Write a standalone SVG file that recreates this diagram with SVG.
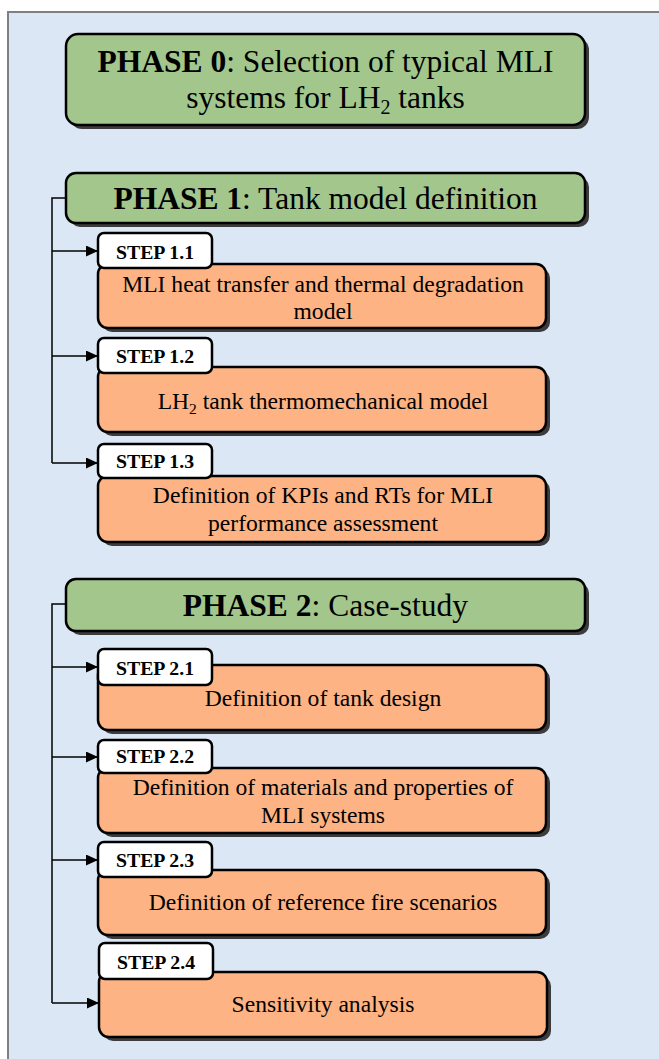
<svg xmlns="http://www.w3.org/2000/svg" width="659" height="1059" viewBox="0 0 659 1059">
<defs>
<marker id="arr" markerWidth="12" markerHeight="11" refX="12" refY="5.5" orient="auto" markerUnits="userSpaceOnUse"><path d="M0,0 L12,5.5 L0,11 Z" fill="#000"/></marker>
</defs>
<style>
.bg{fill:#dbe7f5}
.sh{fill:#3c3c3c}
.phase{fill:#a3c68d;stroke:#000;stroke-width:2.5}
.step{fill:#fdb383;stroke:#000;stroke-width:2.5}
.lbl{fill:#fff;stroke:#000;stroke-width:2.5}
.t{font-family:"Liberation Serif","Times New Roman",serif;fill:#000;text-anchor:middle}
.pt{font-size:31.5px}
.st{font-size:19.8px;font-weight:bold}
.bt{font-size:23.6px}
.b{font-weight:bold}
.conn{fill:none;stroke:#000;stroke-width:1.5}
</style>
<rect x="0" y="0" width="659" height="1059" fill="#fff"/>
<rect class="bg" x="8" y="12" width="651" height="1047"/>
<path d="M8,1059 V12 H659" fill="none" stroke="#808080" stroke-width="2"/>

<g id="connectors">
<path class="conn" d="M66,198 H52 V463"/>
<line class="conn" x1="52" y1="251" x2="98" y2="251" marker-end="url(#arr)"/>
<line class="conn" x1="52" y1="356" x2="98" y2="356" marker-end="url(#arr)"/>
<line class="conn" x1="52" y1="463" x2="98" y2="463" marker-end="url(#arr)"/>
<path class="conn" d="M66,604 H52 V1003"/>
<line class="conn" x1="52" y1="667" x2="98" y2="667" marker-end="url(#arr)"/>
<line class="conn" x1="52" y1="757" x2="98" y2="757" marker-end="url(#arr)"/>
<line class="conn" x1="52" y1="860" x2="98" y2="860" marker-end="url(#arr)"/>
<line class="conn" x1="52" y1="1003" x2="99" y2="1003" marker-end="url(#arr)"/>
</g>

<g id="phase0">
<rect class="sh" x="70" y="38" width="519" height="91" rx="12"/>
<rect class="phase" x="66" y="34" width="519" height="91" rx="12"/>
<text class="t pt" x="325.5" y="72"><tspan class="b">PHASE 0</tspan>: Selection of typical MLI</text>
<text class="t pt" x="325.5" y="108">systems for LH<tspan font-size="20px" dy="6">2</tspan><tspan dy="-6"> tanks</tspan></text>
</g>

<g id="phase1">
<rect class="sh" x="70" y="177" width="519" height="50" rx="10"/>
<rect class="phase" x="66" y="173" width="519" height="50" rx="10"/>
<text class="t pt" x="325.5" y="209"><tspan class="b">PHASE 1</tspan>: Tank model definition</text>
</g>

<g id="step11">
<rect class="sh" x="102" y="268" width="448" height="64" rx="10"/>
<rect class="step" x="98" y="264" width="448" height="64" rx="10"/>
<rect class="lbl" x="98" y="233" width="114" height="35" rx="6"/>
<text class="t st" x="155" y="259">STEP 1.1</text>
<text class="t bt" x="323" y="292">MLI heat transfer and thermal degradation</text>
<text class="t bt" x="323" y="319">model</text>
</g>

<g id="step12">
<rect class="sh" x="102" y="371" width="448" height="65" rx="10"/>
<rect class="step" x="98" y="367" width="448" height="65" rx="10"/>
<rect class="lbl" x="98" y="338" width="114" height="35" rx="6"/>
<text class="t st" x="155" y="363">STEP 1.2</text>
<text class="t bt" x="323" y="409">LH<tspan font-size="15.5px" dy="5">2</tspan><tspan dy="-5"> tank thermomechanical model</tspan></text>
</g>

<g id="step13">
<rect class="sh" x="102" y="480" width="448" height="66" rx="10"/>
<rect class="step" x="98" y="476" width="448" height="66" rx="10"/>
<rect class="lbl" x="98" y="444" width="114" height="34" rx="6"/>
<text class="t st" x="155" y="468">STEP 1.3</text>
<text class="t bt" x="323" y="503">Definition of KPIs and RTs for MLI</text>
<text class="t bt" x="323" y="531">performance assessment</text>
</g>

<g id="phase2">
<rect class="sh" x="70" y="583" width="519" height="52" rx="10"/>
<rect class="phase" x="66" y="579" width="519" height="52" rx="10"/>
<text class="t pt" x="325.5" y="616"><tspan class="b">PHASE 2</tspan>: Case-study</text>
</g>

<g id="step21">
<rect class="sh" x="102" y="669" width="448" height="65" rx="10"/>
<rect class="step" x="98" y="665" width="448" height="65" rx="10"/>
<rect class="lbl" x="98" y="649" width="114" height="36" rx="6"/>
<text class="t st" x="155" y="675">STEP 2.1</text>
<text class="t bt" x="323" y="706">Definition of tank design</text>
</g>

<g id="step22">
<rect class="sh" x="102" y="772" width="448" height="65" rx="10"/>
<rect class="step" x="98" y="768" width="448" height="65" rx="10"/>
<rect class="lbl" x="98" y="740" width="114" height="33" rx="6"/>
<text class="t st" x="155" y="763">STEP 2.2</text>
<text class="t bt" x="323" y="795">Definition of materials and properties of</text>
<text class="t bt" x="323" y="823">MLI systems</text>
</g>

<g id="step23">
<rect class="sh" x="102" y="874" width="448" height="65" rx="10"/>
<rect class="step" x="98" y="870" width="448" height="65" rx="10"/>
<rect class="lbl" x="98" y="842" width="114" height="35" rx="6"/>
<text class="t st" x="155" y="867">STEP 2.3</text>
<text class="t bt" x="323" y="910">Definition of reference fire scenarios</text>
</g>

<g id="step24">
<rect class="sh" x="103" y="976" width="448" height="65" rx="10"/>
<rect class="step" x="99" y="972" width="448" height="65" rx="10"/>
<rect class="lbl" x="99" y="943" width="114" height="36" rx="6"/>
<text class="t st" x="156" y="969">STEP 2.4</text>
<text class="t bt" x="323" y="1012">Sensitivity analysis</text>
</g>
</svg>
